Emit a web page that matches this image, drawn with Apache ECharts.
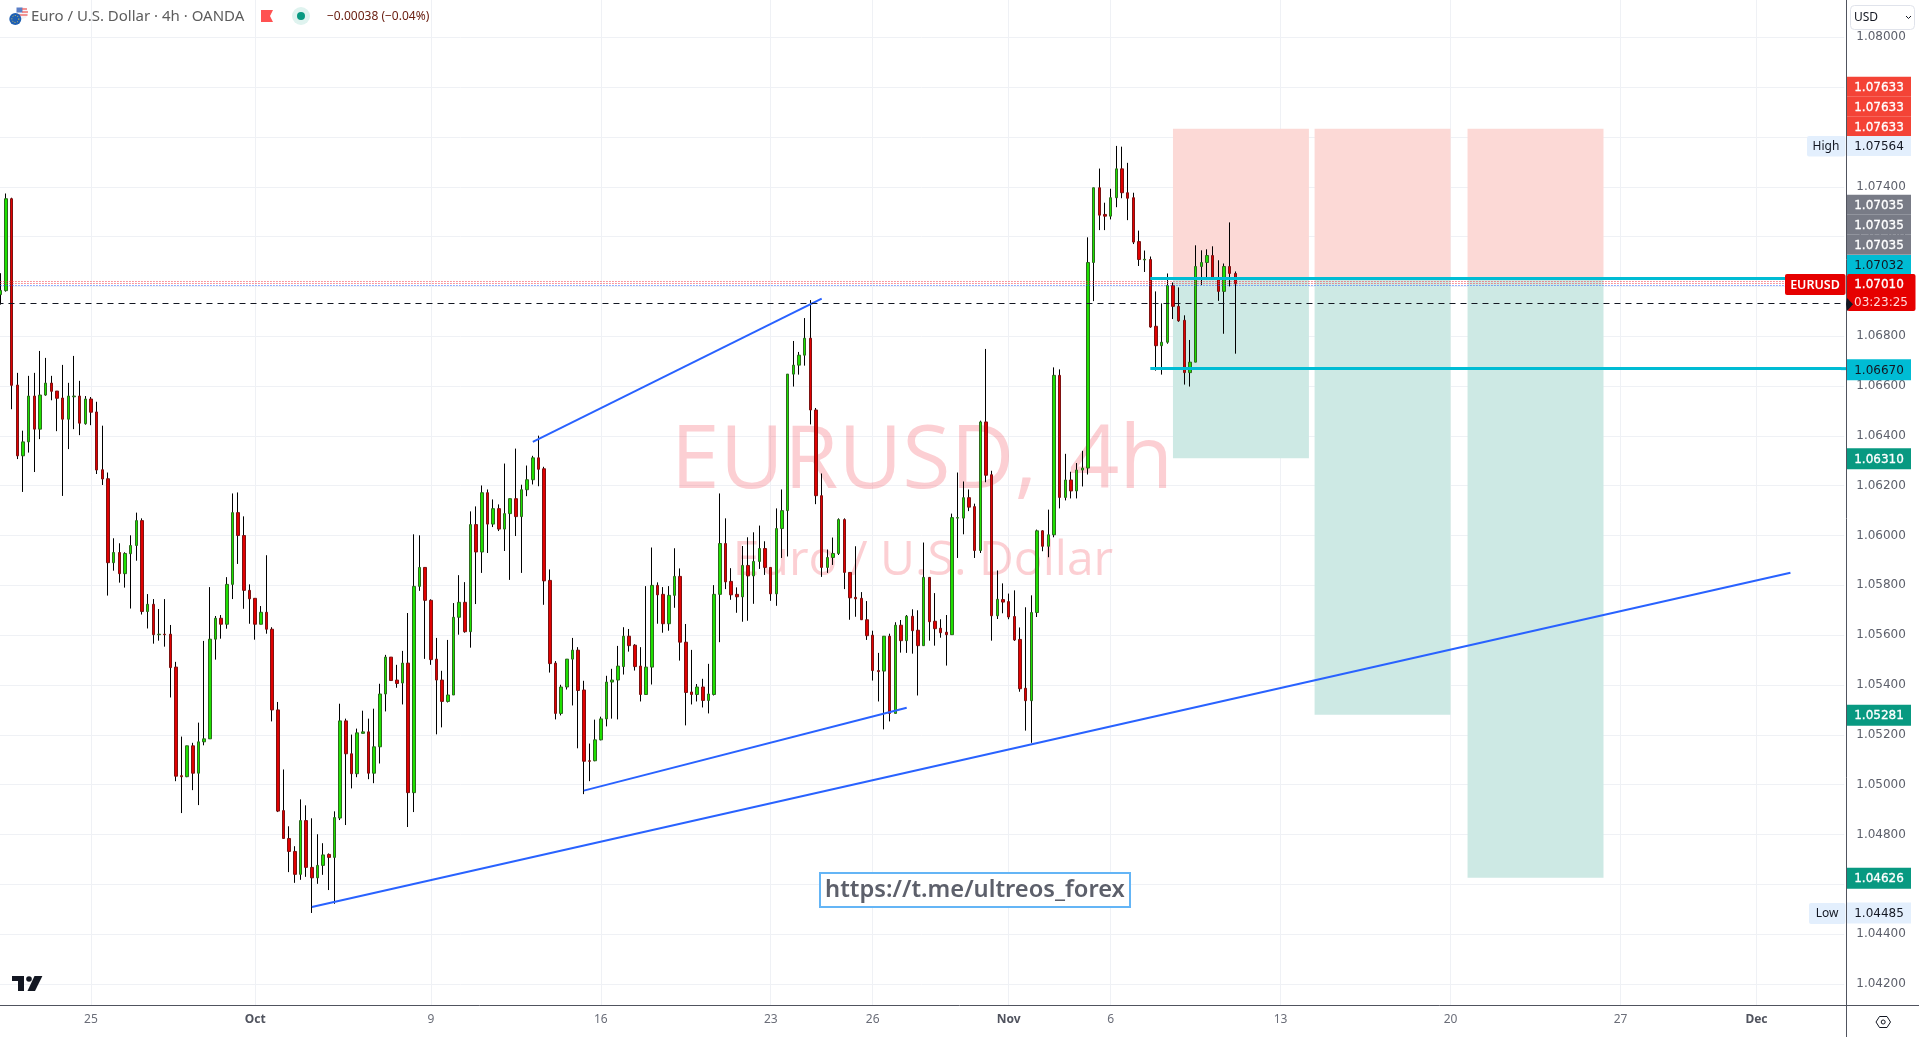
<!DOCTYPE html>
<html>
<head>
<meta charset="utf-8">
<style>html,body{margin:0;padding:0;background:#fff;overflow:hidden}#c{width:1919px;height:1037px}</style>
<script src="https://cdn.jsdelivr.net/npm/echarts@6/dist/echarts.min.js"></script>
</head>
<body>
<div id="c"></div>
<script>
const opens = [1.06967,1.06983,1.07352,1.06604,1.06320,1.06376,1.06560,1.06427,1.06564,1.06612,
1.06580,1.06552,1.06467,1.06557,1.06560,1.06449,1.06548,1.06496,1.06264,1.06228,
1.05891,1.05932,1.05847,1.05927,1.05960,1.06060,1.05695,1.05724,1.05602,1.05604,
1.05604,1.05472,1.05036,1.05032,1.05156,1.05046,1.05172,1.05184,1.05584,1.05668,
1.05644,1.05804,1.06092,1.06000,1.05780,1.05748,1.05644,1.05692,1.05624,1.05300,
1.04896,1.04784,1.04732,1.04640,1.04856,1.04668,1.04626,1.04676,1.04720,1.04708,
1.04866,1.05256,1.05124,1.05044,1.05206,1.05212,1.05046,1.05152,1.05364,1.05512,
1.05420,1.05408,1.05488,1.04968,1.05796,1.05872,1.05740,1.05504,1.05420,1.05334,
1.05360,1.05672,1.05732,1.05614,1.06044,1.05934,1.06172,1.06046,1.06108,1.06026,
1.06088,1.06148,1.06076,1.06184,1.06224,1.06312,1.06268,1.05820,1.05488,1.05286,
1.05392,1.05504,1.05540,1.05380,1.05096,1.05096,1.05180,1.05264,1.05412,1.05420,
1.05474,1.05596,1.05560,1.05476,1.05362,1.05472,1.05800,1.05764,1.05646,1.05760,
1.05836,1.05572,1.05372,1.05362,1.05392,1.05338,1.05362,1.05764,1.05968,1.05816,
1.05764,1.05754,1.05880,1.05838,1.05896,1.05948,1.05872,1.05766,1.06028,1.06100,
1.06648,1.06684,1.06724,1.06792,1.06504,1.06160,1.05872,1.05912,1.05928,1.06064,
1.05852,1.05752,1.05748,1.05662,1.05600,1.05458,1.05456,1.05596,1.05286,1.05640,
1.05578,1.05676,1.05620,1.05558,1.05832,1.05656,1.05628,1.05612,1.05602,1.06070,
1.06070,1.06152,1.06116,1.05940,1.06456,1.06244,1.05678,1.05743,1.05735,1.05675,
1.05583,1.05387,1.05337,1.05691,1.06019,1.05957,1.06003,1.06643,1.06153,1.06223,
1.06179,1.06263,1.06271,1.07096,1.07396,1.07289,1.07282,1.07356,1.07472,1.07376,
1.07356,1.07180,1.07106,1.07108,1.06840,1.06762,1.06776,1.07004,1.06920,1.06864,
1.06654,1.06696,1.07080,1.07096,1.07124,1.07028,1.06980,1.07080,1.07052];
const closes = [1.06984,1.07352,1.06603,1.06320,1.06376,1.06560,1.06427,1.06564,1.06612,1.06579,
1.06551,1.06467,1.06560,1.06560,1.06451,1.06548,1.06495,1.06263,1.06227,1.05891,
1.05932,1.05847,1.05928,1.05960,1.06060,1.05695,1.05724,1.05602,1.05604,1.05602,
1.05470,1.05034,1.05032,1.05156,1.05046,1.05172,1.05184,1.05584,1.05668,1.05644,
1.05804,1.06092,1.06000,1.05780,1.05746,1.05644,1.05692,1.05624,1.05300,1.04894,
1.04784,1.04732,1.04640,1.04856,1.04668,1.04626,1.04676,1.04718,1.04708,1.04868,
1.05256,1.05124,1.05044,1.05208,1.05212,1.05046,1.05152,1.05364,1.05512,1.05418,
1.05406,1.05488,1.04968,1.05796,1.05872,1.05740,1.05502,1.05420,1.05334,1.05360,
1.05672,1.05732,1.05614,1.06044,1.05934,1.06172,1.06046,1.06108,1.06026,1.06088,
1.06148,1.06076,1.06184,1.06224,1.06312,1.06266,1.05818,1.05486,1.05286,1.05392,
1.05504,1.05540,1.05378,1.05094,1.05094,1.05180,1.05264,1.05412,1.05420,1.05476,
1.05596,1.05558,1.05474,1.05362,1.05472,1.05800,1.05762,1.05646,1.05760,1.05836,
1.05572,1.05370,1.05362,1.05392,1.05338,1.05364,1.05764,1.05968,1.05814,1.05762,
1.05754,1.05880,1.05838,1.05896,1.05948,1.05872,1.05766,1.06028,1.06100,1.06648,
1.06684,1.06724,1.06792,1.06504,1.06160,1.05872,1.05912,1.05928,1.06064,1.05852,
1.05750,1.05746,1.05662,1.05598,1.05458,1.05454,1.05596,1.05286,1.05640,1.05578,
1.05676,1.05618,1.05558,1.05832,1.05654,1.05626,1.05610,1.05602,1.06072,1.06072,
1.06152,1.06114,1.05940,1.06456,1.06242,1.05678,1.05744,1.05733,1.05673,1.05581,
1.05385,1.05337,1.05691,1.06019,1.05957,1.06003,1.06643,1.06153,1.06223,1.06179,
1.06263,1.06271,1.07096,1.07396,1.07286,1.07282,1.07356,1.07472,1.07376,1.07354,
1.07178,1.07108,1.07109,1.06837,1.06762,1.06776,1.07004,1.06920,1.06862,1.06654,
1.06696,1.07080,1.07096,1.07124,1.07028,1.06980,1.07080,1.07052,1.07010];
const lows = [1.06927,1.06979,1.06507,1.06307,1.06175,1.06333,1.06255,1.06387,1.06561,1.06543,
1.06419,1.06159,1.06347,1.06427,1.06403,1.06445,1.06443,1.06247,1.06203,1.05759,
1.05859,1.05811,1.05791,1.05707,1.05899,1.05683,1.05627,1.05566,1.05578,1.05554,
1.05350,1.05014,1.04886,1.05030,1.04978,1.04918,1.05158,1.05184,1.05502,1.05586,
1.05626,1.05745,1.05886,1.05706,1.05646,1.05582,1.05644,1.05606,1.05254,1.04890,
1.04784,1.04649,1.04606,1.04618,1.04630,1.04485,1.04602,1.04638,1.04577,1.04522,
1.04858,1.04838,1.04985,1.05030,1.05206,1.05022,1.05006,1.05085,1.05294,1.05418,
1.05389,1.05322,1.04830,1.04890,1.05778,1.05505,1.05481,1.05202,1.05230,1.05330,
1.05360,1.05602,1.05610,1.05550,1.05725,1.05850,1.05930,1.06034,1.06018,1.05938,
1.05822,1.05998,1.05850,1.06158,1.06205,1.06198,1.05722,1.05450,1.05262,1.05278,
1.05382,1.05318,1.05146,1.04962,1.05014,1.05094,1.05178,1.05234,1.05265,1.05262,
1.05442,1.05534,1.05458,1.05334,1.05362,1.05402,1.05646,1.05610,1.05618,1.05710,
1.05498,1.05238,1.05322,1.05334,1.05310,1.05286,1.05358,1.05572,1.05785,1.05742,
1.05690,1.05654,1.05658,1.05726,1.05866,1.05842,1.05738,1.05718,1.05910,1.05916,
1.06598,1.06646,1.06682,1.06446,1.06126,1.05834,1.05850,1.05882,1.05922,1.05785,
1.05662,1.05674,1.05662,1.05581,1.05418,1.05334,1.05222,1.05254,1.05286,1.05530,
1.05529,1.05526,1.05358,1.05558,1.05578,1.05558,1.05590,1.05478,1.05602,1.05910,
1.06005,1.06098,1.05910,1.05930,1.06214,1.05578,1.05665,1.05688,1.05664,1.05577,
1.05373,1.05217,1.05168,1.05673,1.05937,1.05913,1.05993,1.06109,1.06141,1.06149,
1.06149,1.06197,1.06245,1.06941,1.07226,1.07226,1.07269,1.07318,1.07354,1.07266,
1.07170,1.07082,1.07058,1.06834,1.06662,1.06646,1.06770,1.06869,1.06858,1.06606,
1.06598,1.06696,1.07006,1.07029,1.07028,1.06942,1.06810,1.07000,1.06730];
const highs = [1.07053,1.07373,1.07356,1.06653,1.06421,1.06641,1.06653,1.06741,1.06713,1.06641,
1.06580,1.06685,1.06613,1.06721,1.06621,1.06560,1.06556,1.06537,1.06441,1.06253,
1.05989,1.05969,1.05933,1.06001,1.06092,1.06069,1.05765,1.05745,1.05705,1.05745,
1.05641,1.05493,1.05193,1.05156,1.05168,1.05249,1.05577,1.05793,1.05677,1.05681,
1.05833,1.06169,1.06173,1.06077,1.05804,1.05748,1.05717,1.05921,1.05632,1.05332,
1.05061,1.04833,1.04753,1.04941,1.04917,1.04865,1.04801,1.04765,1.04724,1.04893,
1.05325,1.05265,1.05201,1.05225,1.05297,1.05265,1.05305,1.05405,1.05521,1.05512,
1.05481,1.05537,1.05689,1.06005,1.06001,1.05872,1.05744,1.05589,1.05457,1.05581,
1.05729,1.05841,1.05813,1.06097,1.06117,1.06201,1.06185,1.06145,1.06125,1.06289,
1.06148,1.06349,1.06204,1.06281,1.06320,1.06401,1.06276,1.05864,1.05496,1.05401,
1.05504,1.05589,1.05552,1.05417,1.05165,1.05261,1.05273,1.05437,1.05465,1.05557,
1.05632,1.05625,1.05564,1.05552,1.05797,1.05952,1.05812,1.05793,1.05797,1.05949,
1.05868,1.05645,1.05541,1.05404,1.05425,1.05485,1.05801,1.06169,1.06069,1.05869,
1.05792,1.05958,1.05993,1.06013,1.06040,1.05977,1.05872,1.06109,1.06185,1.06648,
1.06781,1.06737,1.06873,1.06945,1.06512,1.06249,1.05944,1.05992,1.06069,1.06069,
1.05852,1.05957,1.05773,1.05737,1.05618,1.05529,1.05596,1.05606,1.05652,1.05661,
1.05681,1.05704,1.05700,1.05972,1.05832,1.05769,1.05664,1.05681,1.06088,1.06253,
1.06217,1.06185,1.06128,1.06461,1.06749,1.06260,1.05860,1.05808,1.05767,1.05780,
1.05631,1.05712,1.05760,1.06024,1.06021,1.06104,1.06675,1.06667,1.06328,1.06256,
1.06291,1.06340,1.07197,1.07396,1.07473,1.07336,1.07392,1.07564,1.07561,1.07496,
1.07376,1.07224,1.07144,1.07120,1.06980,1.06932,1.07052,1.07016,1.06996,1.06884,
1.06785,1.07165,1.07145,1.07149,1.07161,1.07105,1.07092,1.07257,1.07060];

const slotCount = 326;
const dateLabels = ['25','Oct','9','16','23','26','Nov','6','13','20','27','Dec'];
const dateSlots = [16,45,76,106,136,154,178,196,226,256,286,310];
const boldDates = ['Oct','Nov','Dec'];
const priceTicks = [1.042,1.044,1.046,1.048,1.05,1.052,1.054,1.056,1.058,1.06,1.062,1.064,1.066,1.068,1.07,1.072,1.074,1.076,1.078,1.08];

const stopPrice = 1.07633, entryPrice = 1.07035;
const boxSlots = [[207,231],[232,256],[259,283]];
const targetPrices = [1.06310,1.05281,1.04626];
const trendLines = [
  [55,1.04509,316,1.05851],
  [94,1.06376,145,1.06951],
  [103,1.04976,160,1.05309]
];
const levelStart = 203, levelUpper = 1.07032, levelLower = 1.06670;
const lastClose = 1.07010, prevClose = 1.06932;
const dotRed = [1.07020,1.07012], dotBlue = [1.07004];

const categories = [];
for (let i = 0; i < slotCount; i++) {
  const k = dateSlots.indexOf(i);
  categories.push(k >= 0 ? dateLabels[k] : '');
}
const candleData = opens.map((o,i)=>[o,closes[i],lows[i],highs[i]]);
const bodyData = opens.map((o,i)=>[o,closes[i],Math.min(o,closes[i]),Math.max(o,closes[i])]);

const tickFont = 'DejaVu Sans';
const chart = echarts.init(document.getElementById('c'),null,{renderer:'canvas'});
const hairGrid = '#eff1f5';
chart.setOption({
  animation:false,
  backgroundColor:'#ffffff',
  grid:{left:-2.53,top:0,width:326*5.665,height:1005,containLabel:false,outerBoundsMode:'none'},
  xAxis:{type:'category',data:categories,boundaryGap:true,
    axisLine:{show:false},axisTick:{show:false},splitLine:{show:false},
    axisLabel:{interval:(i,v)=>v!=='',margin:9,fontFamily:'Noto Sans',fontSize:12,color:'#6a6d78',
      formatter:v=>boldDates.includes(v)?'{b|'+v+'}':v,
      rich:{b:{fontFamily:'Noto Sans',fontSize:12,fontWeight:700,color:'#50535e'}}}},
  yAxis:{type:'value',position:'right',offset:2,min:1.041156,max:1.081497,
    axisLine:{show:false},axisTick:{show:false},splitLine:{show:false},
    axisLabel:{customValues:priceTicks,margin:10,padding:[2,0,0,0],fontFamily:tickFont,fontSize:12,color:'#5d606b',
      formatter:v=>v.toFixed(5)}},
  series:[
    {type:'line',data:[],z:0,silent:true,
      markArea:{silent:true,z:1,data:boxSlots.flatMap((b,i)=>[
        [{xAxis:b[0],yAxis:stopPrice,itemStyle:{color:'#fcd9d6'}},{xAxis:b[1],yAxis:entryPrice}],
        [{xAxis:b[0],yAxis:entryPrice,itemStyle:{color:'#cde9e4'}},{xAxis:b[1],yAxis:targetPrices[i]}]
      ])},
      markLine:{silent:true,z:0,precision:5,symbol:'none',label:{show:false},
        lineStyle:{color:hairGrid,width:1,type:'solid'},
        data:[...priceTicks.map(p=>({yAxis:p})),...dateSlots.map(s=>({xAxis:s}))]}},
    {type:'candlestick',name:'wick',z:2,barWidth:1,silent:true,data:candleData,
      itemStyle:{color:'#000',color0:'#000',borderColor:'#000',borderColor0:'#000',borderWidth:1}},
    {type:'candlestick',name:'body',z:3,barWidth:3,silent:true,data:bodyData,
      itemStyle:{color:'#1ee000',color0:'#e00000',borderColor:'#2d6a1e',borderColor0:'#7d1212',borderWidth:1}},
    {type:'line',data:[],z:4,silent:true,
      markLine:{silent:true,z:6,precision:5,symbol:'none',label:{show:false},data:[
        ...trendLines.map(t=>[
          {xAxis:t[0],yAxis:t[1],lineStyle:{color:'#2962ff',width:2,type:'solid'}},
          {xAxis:t[2],yAxis:t[3]}]),
        [{xAxis:levelStart,yAxis:levelUpper,lineStyle:{color:'#00bcd4',width:3,type:'solid'}},{xAxis:slotCount-1,yAxis:levelUpper}],
        [{xAxis:levelStart,yAxis:levelLower,lineStyle:{color:'#00bcd4',width:3,type:'solid'}},{xAxis:slotCount-1,yAxis:levelLower}],
        ...dotBlue.map(p=>({yAxis:p,lineStyle:{color:'#2962ff',width:1,type:[1,2]}})),
        ...dotRed.map(p=>({yAxis:p,lineStyle:{color:'#f23645',width:1,type:[1,2]}})),
        {yAxis:prevClose,lineStyle:{color:'#131722',width:1,type:[6,5]}}
      ]}}
  ]
});

const py = p => chart.convertToPixel({yAxisIndex:0},p);
const txt = (text,x,y,font,fill,align,extra) => Object.assign({type:'text',silent:true,z:100,
  style:{text,x,y,font,fill,textAlign:align||'left',textVerticalAlign:'middle'}},extra||{});
const rect = (x,y,w,h,fill,r,extra) => Object.assign({type:'rect',silent:true,z:90,
  shape:{x,y,width:w,height:h,r:r||0},style:{fill}},extra||{});
const seg = (x1,y1,x2,y2,stroke,w,z) => ({type:'line',silent:true,z:z||95,shape:{x1,y1,x2,y2},style:{stroke,lineWidth:w||1}});
const poly = (points,fill,z) => ({type:'polygon',silent:true,z:z||100,shape:{points},style:{fill}});

const tagFont = '12px "DejaVu Sans"';
const tagX = 1847, tagW = 64, tagLabelX = 1879;
function tag(price,shift,bg,fg,h){
  const y = py(price)+shift, hh = h||20;
  const t = txt(price.toFixed(5),tagLabelX,y+1,tagFont,fg,'center');
  if (fg==='#ffffff'){t.style.stroke=fg;t.style.lineWidth=0.3;}
  return [rect(tagX,y-hh/2,tagW,hh,bg),t];
}
const g = [];
g.push(txt('EURUSD,\u200a 4h',922,463,'88px "Open Sans"','rgba(242,54,69,0.24)','center',{z:0}));
g.push(txt('Euro / U.S. Dollar',923,561,'48px "Open Sans"','rgba(242,54,69,0.24)','center',{z:0}));

g.push(seg(1846.5,0,1846.5,1037,'#50535e',1,95), seg(0,1005.5,1919,1005.5,'#50535e',1,95));
g.push(seg(1841,py(levelLower),1847,py(levelLower),'#00bcd4',3,89));

[-42,-22,-2].forEach(s=>g.push(...tag(stopPrice,s,'#f44336','#ffffff')));
g.push(...tag(1.07564,0,'#e3effd','#131722'));
g.push(rect(1807,136,38.5,20.5,'#e3effd',2),txt('High',1826,147,'12px "Noto Sans"','#131722','center'));
[-73,-53,-33].forEach(s=>g.push(...tag(entryPrice,s,'#787b86','#ffffff')));
g.push(...tag(levelUpper,-13.4,'#00bcd4','#131722'));
const lastTxt = txt(lastClose.toFixed(5),tagLabelX,285,tagFont,'#ffffff','center');
lastTxt.style.stroke='#ffffff'; lastTxt.style.lineWidth=0.3;
g.push(rect(1847,274,68.5,37,'#e60000',2),lastTxt,txt('03:23:25',1881,302.5,tagFont,'#ffd9d9','center'));
g.push(rect(1785,274,60.5,21,'#e60000',2),txt('EURUSD',1815,285.5,'600 12.5px "Noto Sans"','#ffffff','center'));
g.push(poly([[1847,298],[1853,304.3],[1847,311],[1846,304]],'#131722',99));
g.push(...tag(levelLower,1,'#00bcd4','#131722',21));
targetPrices.forEach(p=>g.push(...tag(p,0.5,'#089981','#ffffff',21)));
g.push(...tag(1.04485,0,'#e3effd','#131722',21));
g.push(rect(1809,903,36.5,21,'#e3effd',2),txt('Low',1827,914,'12px "Noto Sans"','#131722','center'));

g.push(rect(1850.5,5.5,64,24,'#ffffff',4,{style:{fill:'#ffffff',stroke:'#e0e3eb',lineWidth:1}}),
  txt('USD',1854,17.5,'12px "Noto Sans"','#131722'),
  {type:'polyline',silent:true,z:100,shape:{points:[[1906,16],[1908.5,18.5],[1911,16]]},style:{stroke:'#131722',lineWidth:1,fill:null}});

g.push(rect(820,873,310,34,'#ffffff',0,{z:90,style:{fill:'#ffffff',stroke:'#64b5f6',lineWidth:2}}),
  txt('https://t.me/ultreos_forex',975,890,'600 23.7px "Noto Sans"','#5d606b','center'));

g.push(txt('Euro / U.S. Dollar · 4h · OANDA',31,17,'15px "Noto Sans"','#5d5d5d'));
g.push(poly([[261,10],[273,10],[270,16],[273,22],[261,22]],'#ff5252'));
g.push({type:'circle',silent:true,z:99,shape:{cx:301,cy:16,r:9},style:{fill:'#dff3ef'}},
  {type:'circle',silent:true,z:100,shape:{cx:301,cy:16,r:4},style:{fill:'#089981'}});
g.push(txt('−0.00038 (−0.04%)',327,17,'12px "Noto Sans"','#6b2013'));

g.push({type:'circle',silent:true,z:99,shape:{cx:22,cy:13,r:6},style:{fill:'#f4f4f8'}},
  rect(16.5,7.5,6,5,'#5b7fc7',0,{z:100}),
  seg(22,9,27,9,'#ef5350',1.2,100),seg(22,12,28,12,'#ef5350',1.2,100),seg(17,15,27.5,15,'#ef5350',1.2,100),
  {type:'circle',silent:true,z:101,shape:{cx:15.3,cy:19,r:6},style:{fill:'#1e5fb3'}},
  {type:'circle',silent:true,z:102,shape:{cx:15.3,cy:19,r:3.5},style:{fill:null,stroke:'#e5c94f',lineWidth:1,lineDash:[1,1.6]}});

g.push(poly([[12,976],[24,976],[24,991],[18,991],[18,981],[12,981]],'#131722'),
  {type:'circle',silent:true,z:100,shape:{cx:29,cy:979,r:2.8},style:{fill:'#131722'}},
  poly([[34.5,976],[42.4,976],[35,991],[27.5,991]],'#131722'));

g.push(poly([[1876,1022],[1879.5,1016.5],[1887,1016.5],[1890.5,1022],[1887,1027.5],[1879.5,1027.5]],null,100));
g[g.length-1].style={fill:null,stroke:'#131722',lineWidth:1};
g.push({type:'circle',silent:true,z:100,shape:{cx:1883.2,cy:1022,r:2},style:{fill:null,stroke:'#131722',lineWidth:1}});

chart.setOption({graphic:{elements:g}});
</script>
</body>
</html>
